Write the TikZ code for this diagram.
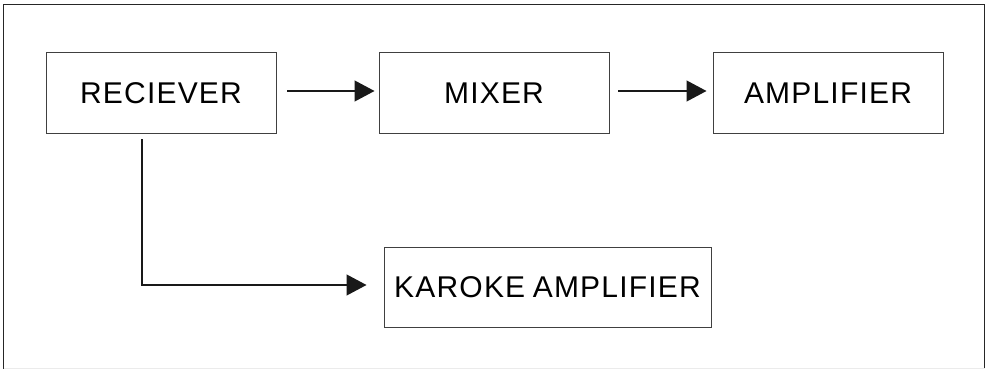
\documentclass[tikz,border=0pt]{standalone}
\usepackage{fontspec}
\setmainfont{Liberation Sans}[LetterSpace=4]
\usetikzlibrary{arrows.meta}
\tikzset{
  blk/.style={draw=black!75, line width=1pt, minimum width=230pt, minimum height=80pt, inner sep=0pt, font=\fontsize{30}{35}\selectfont, text=black},
  conn/.style={draw=black!90, line width=1.2pt, -{Triangle[length=20pt,width=21pt]}},
}
\begin{document}
\begin{tikzpicture}[x=1pt,y=-1pt]
\useasboundingbox (0,0) rectangle (988,369);
\fill[white] (0,0) rectangle (988,369);
% outer frame
\draw[black!85, line width=1.6pt] (3.5,369) -- (3.5,4.5) -- (984.5,4.5) -- (984.5,369);
\draw[black!8, line width=1pt] (3.5,368) -- (984.5,368);
% blocks
\node[blk] (rec) at (161,93) {RECIEVER};
\node[blk] (mix) at (494,93) {MIXER};
\node[blk] (amp) at (828,93) {AMPLIFIER};
\node[blk, minimum width=327pt] (kar) at (547.5,287) {KAROKE\hspace{-2pt} AMPLIFIER};
% connectors
\coordinate (a1s) at (287,91);
\coordinate (a2s) at (618,91);
\draw[conn] (a1s) -- ([xshift=-4pt]mix.west |- a1s);
\draw[conn] (a2s) -- ([xshift=-6pt]amp.west |- a2s);
\coordinate (vs) at (142,139);
\coordinate (corner) at (142,285);
\draw[conn] (vs) -- (corner) -- ([xshift=-17pt]kar.west |- corner);
\end{tikzpicture}
\end{document}
